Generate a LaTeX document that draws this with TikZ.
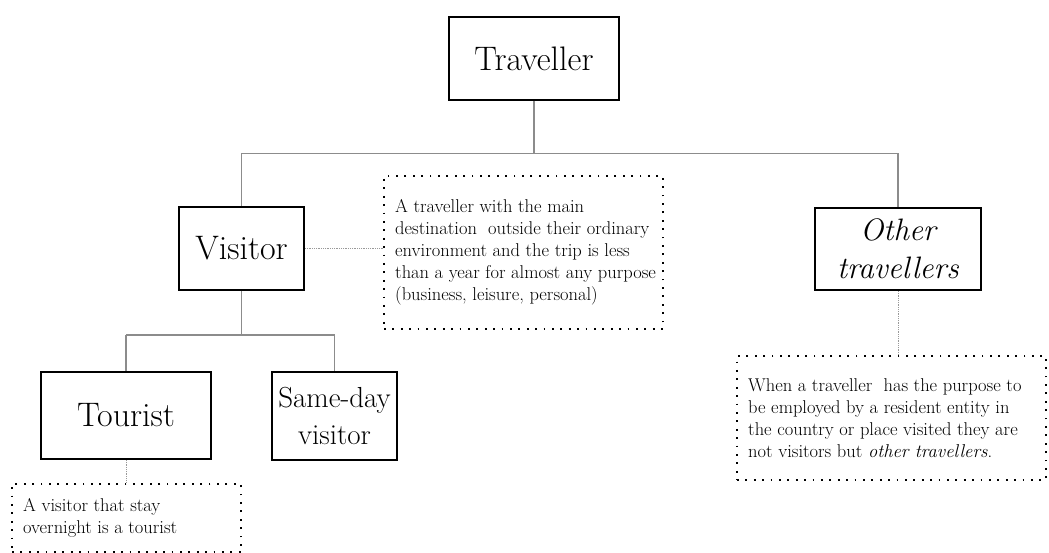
\documentclass[tikz,border=0pt]{standalone}
\usepackage{fontspec}
\begin{document}
\begin{tikzpicture}[x=1pt,y=-1pt,
  box/.style={draw=black,line width=2pt,rectangle,align=center,inner sep=1pt,font=\fontsize{34}{38}\selectfont},
  note/.style={draw=black,line width=2pt,dash pattern=on 1.8pt off 6.6pt,rectangle,inner sep=0pt},
  notetext/.style={anchor=west,align=left,inner sep=0pt,font=\fontsize{18.5}{22}\selectfont},
  link/.style={draw=black!45,line width=1.2pt},
  dlink/.style={draw=black!40,line width=0.8pt,densely dotted}]
\useasboundingbox (0,0) rectangle (1049,553);
\node[box,minimum width=170,minimum height=83] (trav) at (534,58.5) {Traveller};
\node[box,minimum width=125,minimum height=83] (vis) at (241.5,248.5) {Visitor};
\node[box,minimum width=166,minimum height=82,font=\fontsize{31}{38}\selectfont\itshape] (oth) at (898,249) {Other\\travellers};
\node[box,minimum width=170,minimum height=87] (tour) at (126,415.5) {Tourist};
\node[box,minimum width=125,minimum height=88,font=\fontsize{29}{37}\selectfont] (same) at (334.5,416) {Same-day\\visitor};
\node[note,minimum width=279,minimum height=153] (n1) at (523.5,252.5) {};
\node[notetext] (n1t) at ([xshift=12]n1.west)
  {A traveller with the main\\destination\ \ outside their ordinary\\environment and the trip is less\\than a year for almost any purpose\\(business, leisure, personal)};
\node[note,minimum width=309,minimum height=124] (n2) at (891.5,418) {};
\node[notetext] (n2t) at ([xshift=12]n2.west)
  {When a traveller\ \ has the purpose to\\be employed by a resident entity in\\the country or place visited they are\\not visitors but \textit{other travellers}.};
\node[note,minimum width=229,minimum height=68] (n3) at (126.5,518) {};
\node[notetext] (n3t) at ([xshift=12]n3.west)
  {A visitor that stay\\overnight is a tourist};
\coordinate (j1) at (534,153.5);
\coordinate (jl) at (vis.north |- j1);
\coordinate (jr) at (oth.north |- j1);
\draw[link] (trav.south) -- (j1);
\draw[link] (jl) -- (jr);
\draw[link] (jl) -- (vis.north);
\draw[link] (jr) -- (oth.north);
\coordinate (j2) at (241.5,335);
\coordinate (j2l) at (tour.north |- j2);
\coordinate (j2r) at (same.north |- j2);
\draw[link] (vis.south) -- (j2);
\draw[link] (j2l) -- (j2r);
\draw[link] (j2l) -- (tour.north);
\draw[link] (j2r) -- (same.north);
\draw[dlink] (vis.east) -- (vis.east -| n1.west);
\draw[dlink] (oth.south) -- (oth.south |- n2.north);
\draw[dlink] (tour.south) -- (tour.south |- n3.north);
\end{tikzpicture}
\end{document}
